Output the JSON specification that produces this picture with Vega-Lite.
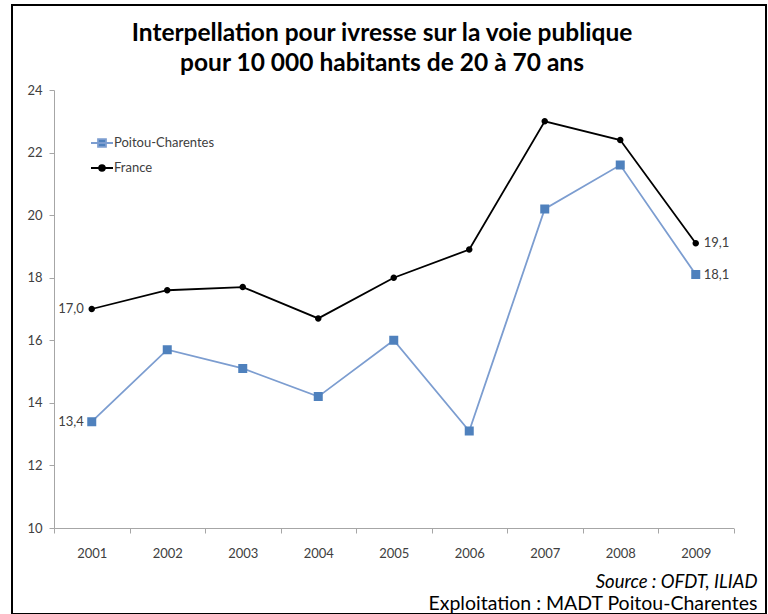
{
  "$schema": "https://vega.github.io/schema/vega-lite/v6.json",
  "width": 754,
  "height": 609,
  "autosize": "none",
  "padding": {"left": 12, "top": 5, "right": 2, "bottom": 0},
  "background": "white",
  "title": {
    "text": ["Interpellation pour ivresse sur la voie publique", "pour 10 000 habitants de 20 à 70 ans"],
    "font": "Lato",
    "fontSize": 24.5,
    "fontWeight": "bold",
    "color": "#000000",
    "anchor": "middle",
    "frame": "group",
    "lineHeight": 30,
    "offset": -71,
    "dx": -7
  },
  "data": {
    "values": [
      {"year": "2001", "series": "Poitou-Charentes", "value": 13.4},
      {"year": "2002", "series": "Poitou-Charentes", "value": 15.7},
      {"year": "2003", "series": "Poitou-Charentes", "value": 15.1},
      {"year": "2004", "series": "Poitou-Charentes", "value": 14.2},
      {"year": "2005", "series": "Poitou-Charentes", "value": 16.0},
      {"year": "2006", "series": "Poitou-Charentes", "value": 13.1},
      {"year": "2007", "series": "Poitou-Charentes", "value": 20.2},
      {"year": "2008", "series": "Poitou-Charentes", "value": 21.6},
      {"year": "2009", "series": "Poitou-Charentes", "value": 18.1},
      {"year": "2001", "series": "France", "value": 17.0},
      {"year": "2002", "series": "France", "value": 17.6},
      {"year": "2003", "series": "France", "value": 17.7},
      {"year": "2004", "series": "France", "value": 16.7},
      {"year": "2005", "series": "France", "value": 18.0},
      {"year": "2006", "series": "France", "value": 18.9},
      {"year": "2007", "series": "France", "value": 23.0},
      {"year": "2008", "series": "France", "value": 22.4},
      {"year": "2009", "series": "France", "value": 19.1}
    ]
  },
  "encoding": {
    "x": {
      "field": "year",
      "type": "ordinal",
      "scale": {"type": "band", "range": [42, 721.5], "paddingInner": 0, "paddingOuter": 0},
      "axis": {
        "title": "Source : OFDT, ILIAD",
        "titleFont": "Lato",
        "titleFontSize": 18.5,
        "titleFontStyle": "italic",
        "titleFontWeight": "normal",
        "titleColor": "#000000",
        "titleAlign": "right",
        "titleAnchor": "end",
        "titleBaseline": "alphabetic",
        "titleX": 745,
        "titleY": 59,
        "offset": -86,
        "tickBand": "extent",
        "labelAngle": 0,
        "labelPadding": 14,
        "labelFont": "Lato",
        "labelFontSize": 13,
        "labelColor": "#404040",
        "domainColor": "#a6a6a6",
        "tickColor": "#a6a6a6",
        "tickSize": 5,
        "grid": false
      }
    },
    "y": {
      "field": "value",
      "type": "quantitative",
      "scale": {"domain": [10, 24], "range": [523, 85], "nice": false, "zero": false},
      "axis": {
        "title": "Exploitation : MADT Poitou-Charentes",
        "titleFont": "Lato",
        "titleFontSize": 19.5,
        "titleFontWeight": "normal",
        "titleColor": "#000000",
        "titleAngle": 0,
        "titleAlign": "right",
        "titleBaseline": "alphabetic",
        "titleX": 703,
        "titleY": 604,
        "offset": -42,
        "values": [10, 12, 14, 16, 18, 20, 22, 24],
        "labelFont": "Lato",
        "labelFontSize": 13,
        "labelColor": "#404040",
        "labelPadding": 7,
        "domainColor": "#a6a6a6",
        "tickColor": "#a6a6a6",
        "tickSize": 5,
        "grid": false
      }
    }
  },
  "layer": [
    {
      "mark": {"type": "line", "strokeWidth": 1.8},
      "encoding": {
        "stroke": {
          "field": "series",
          "type": "nominal",
          "scale": {"domain": ["Poitou-Charentes", "France"], "range": ["#7c9dd0", "#000000"]}
        }
      }
    },
    {
      "mark": {"type": "point", "filled": true, "size": 625, "opacity": 1, "strokeWidth": 0},
      "encoding": {
        "color": {
          "field": "series",
          "type": "nominal",
          "scale": {"domain": ["Poitou-Charentes", "France"], "range": ["#4f81bd", "#000000"]},
          "legend": {
            "title": null,
            "orient": "none",
            "legendX": 78,
            "legendY": 126,
            "padding": 0,
            "rowPadding": 5,
            "symbolSize": 484,
            "symbolStrokeWidth": 1.8,
            "labelFont": "Lato",
            "labelFontSize": 13,
            "labelColor": "#404040",
            "labelOffset": 0,
            "encode": {"symbols": {"update": {"strokeWidth": {"value": 1.8}}}}
          }
        },
        "stroke": {"field": "series", "type": "nominal"},
        "shape": {
          "field": "series",
          "type": "nominal",
          "scale": {
            "domain": ["Poitou-Charentes", "France"],
            "range": [
              "M-1,0L1,0M-0.36,-0.36L0.36,-0.36L0.36,0.36L-0.36,0.36Z",
              "M-1,0L1,0M-0.26,0A0.26,0.26,0,1,1,0.26,0A0.26,0.26,0,1,1,-0.26,0Z"
            ]
          }
        }
      }
    },
    {
      "transform": [{"filter": "datum.year == '2001'"}],
      "mark": {"type": "text", "align": "right", "baseline": "middle", "dx": -8, "font": "Lato", "fontSize": 13, "color": "#404040"},
      "encoding": {"text": {"field": "value", "type": "quantitative", "format": ".1f"}}
    },
    {
      "transform": [{"filter": "datum.year == '2009'"}],
      "mark": {"type": "text", "align": "left", "baseline": "middle", "dx": 8, "font": "Lato", "fontSize": 13, "color": "#404040"},
      "encoding": {"text": {"field": "value", "type": "quantitative", "format": ".1f"}}
    }
  ],
  "config": {
    "view": {"stroke": "#000000", "strokeWidth": 2, "fill": "white"},
    "locale": {"number": {"decimal": ",", "thousands": " ", "grouping": [3], "currency": ["", " €"]}}
  }
}
